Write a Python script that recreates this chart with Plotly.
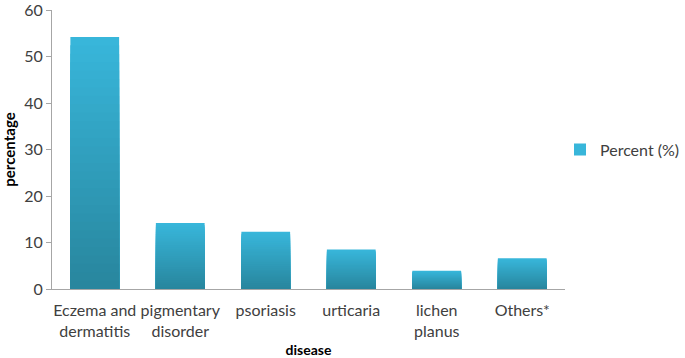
import plotly.graph_objects as go

categories = ["Eczema and<br>dermatitis", "pigmentary<br>disorder", "psoriasis", "urticaria", "lichen<br>planus", "Others*"]
percent = [54.2, 14.2, 12.3, 8.5, 3.9, 6.6]
series_name = "Percent (%)"
y_ticks = [0, 10, 20, 30, 40, 50, 60]

top_rgb = (56, 182, 218)
bot_rgb = (40, 134, 158)
N = 30

fig = go.Figure()
for k in range(N, 0, -1):
    f = k / N
    t = (N - k) / (N - 1)
    c = tuple(int(round(top_rgb[i] + (bot_rgb[i] - top_rgb[i]) * t)) for i in range(3))
    fig.add_trace(go.Bar(
        x=categories, y=[v * f for v in percent],
        marker=dict(color="rgb(%d,%d,%d)" % c, line=dict(width=0)),
        name=series_name, showlegend=(k == N),
        hoverinfo="skip" if k != N else None,
    ))

W, H = 685, 358
ML, MR, MT, MB = 52, 0, 10, 69
plot_w = W - ML - MR
x_end = 513 / plot_w

font_fam = "Lato, 'Open Sans', sans-serif"
fig.update_layout(
    width=W, height=H,
    margin=dict(l=ML, r=MR, t=MT, b=MB),
    paper_bgcolor="white", plot_bgcolor="rgba(0,0,0,0)",
    barmode="overlay", bargap=0.43,
    font=dict(family=font_fam, size=16, color="#404040"),
    legend=dict(x=1.0, y=0.5, xanchor="right", yanchor="middle", itemwidth=30,
                font=dict(size=16, color="#404040"), bgcolor="rgba(0,0,0,0)"),
    xaxis=dict(domain=[0, x_end], showline=True, linecolor="#A6A6A6", linewidth=1, ticks="",
               showgrid=False, tickfont=dict(size=16), automargin=False, tickangle=0,
               ticklabelstandoff=7,
               title=dict(text="<b>disease</b>", font=dict(size=14, color="#000000"), standoff=6)),
    yaxis=dict(range=[0, 60], tickvals=y_ticks, showline=True, linecolor="#A6A6A6",
               linewidth=1, ticks="outside", ticklen=5, tickcolor="#A6A6A6",
               showgrid=False, zeroline=False, tickfont=dict(size=16), automargin=False,
               ticklabeloverflow="allow",
               title=dict(text="<b>percentage</b>", font=dict(size=15, color="#000000"), standoff=6)),
)

fig.write_html("out.html", config={"displayModeBar": False},
               post_script="document.body.style.margin='0';")
